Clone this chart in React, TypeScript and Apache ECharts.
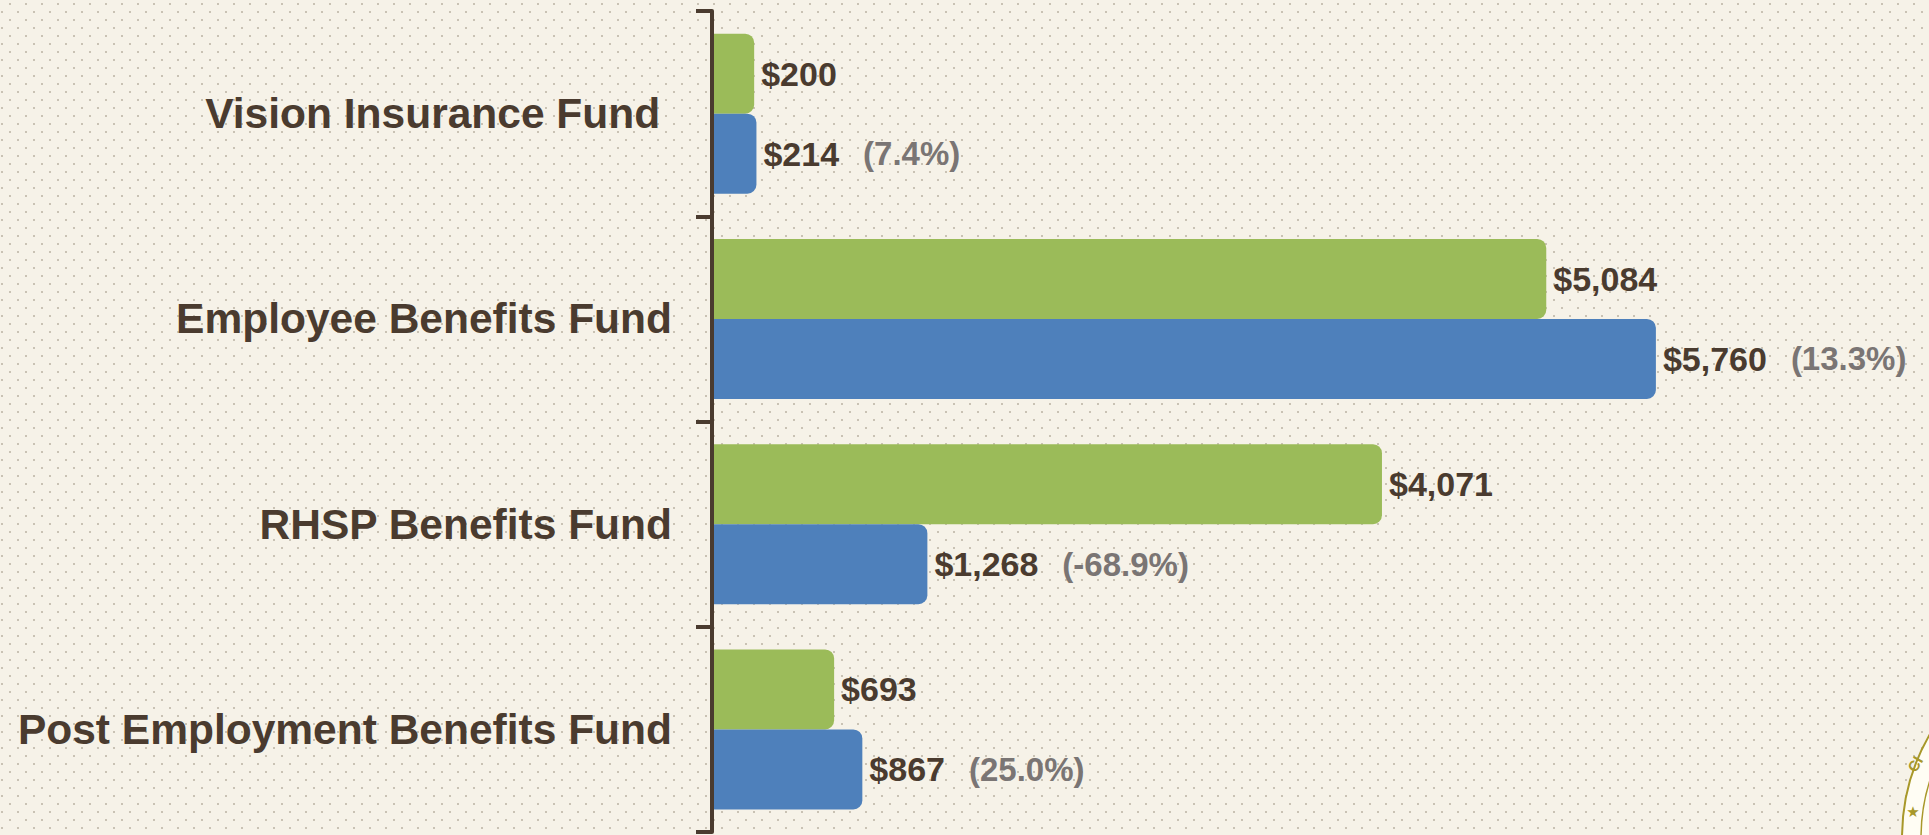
import React, { useEffect, useRef } from "react";
import * as echarts from "echarts";

const categories = [
  "Vision Insurance Fund ",
  "Employee Benefits Fund",
  "RHSP Benefits Fund",
  "Post Employment Benefits Fund",
];
const priorValues = [200, 5084, 4071, 693];
const currentValues = [214, 5760, 1268, 867];
const changeLabels = ["(7.4%)", "(13.3%)", "(-68.9%)", "(25.0%)"];

const BROWN = "#4a3b2f";
const GRAY = "#7a7574";
const FONT = "Liberation Sans";
const GOLD = "#a8982a";

const fmt = (v: number) => "$" + v.toLocaleString("en-US");

export default function App() {
  const ref = useRef<HTMLDivElement>(null);
  useEffect(() => {
    if (!ref.current) return;
    const chart = echarts.init(ref.current, null, { renderer: "svg" });
    chart.setOption({
      animation: false,
      backgroundColor: "transparent",
      grid: { left: 712, right: 72, top: 11, bottom: 3, containLabel: false },
      xAxis: {
        type: "value",
        min: -60,
        max: 7000,
        startValue: -60,
        show: false,
        splitLine: { show: false },
      },
      yAxis: {
        type: "category",
        data: categories,
        inverse: true,
        z: 10,
        axisLine: {
          show: true,
          onZero: false,
          lineStyle: { color: BROWN, width: 4, cap: "round" },
        },
        axisTick: { show: true, length: 16, lineStyle: { color: BROWN, width: 4 } },
        axisLabel: {
          color: BROWN,
          fontSize: 42.5,
          fontWeight: "bold",
          fontFamily: FONT,
          margin: 40,
        },
        splitLine: { show: false },
      },
      series: [
        {
          type: "bar",
          name: "Prior",
          data: priorValues,
          barWidth: 80,
          barGap: "0%",
          z: 1,
          itemStyle: { color: "#9bbb59", borderRadius: [0, 9, 9, 0] },
          label: {
            show: true,
            position: "right",
            distance: 7,
            color: BROWN,
            fontSize: 34,
            fontWeight: "bold",
            fontFamily: FONT,
            formatter: (p: any) => fmt(p.value),
          },
        },
        {
          type: "bar",
          name: "Current",
          data: currentValues,
          barWidth: 80,
          barGap: "0%",
          z: 1,
          itemStyle: { color: "#4e80bb", borderRadius: [0, 9, 9, 0] },
          label: {
            show: true,
            position: "right",
            distance: 7,
            formatter: (p: any) => `{v|${fmt(p.value)}}{p|${changeLabels[p.dataIndex]}}`,
            rich: {
              v: { color: BROWN, fontSize: 34, fontWeight: "bold", fontFamily: FONT },
              p: {
                color: GRAY,
                fontSize: 33,
                fontWeight: "bold",
                fontFamily: FONT,
                padding: [0, 0, 0, 24],
              },
            },
          },
        },
      ],
      graphic: [
        {
          type: "circle",
          shape: { cx: 2109, cy: 838, r: 207 },
          style: { fill: "#fffdf4", stroke: GOLD, lineWidth: 2 },
          silent: true,
        },
        {
          type: "circle",
          shape: { cx: 2109, cy: 838, r: 188 },
          style: { fill: "none", stroke: GOLD, lineWidth: 1.5 },
          silent: true,
        },
        {
          type: "text",
          x: 1915,
          y: 764,
          rotation: 1.05,
          style: {
            text: "CI",
            fill: GOLD,
            fontSize: 15,
            fontWeight: "bold",
            fontFamily: FONT,
            align: "center",
            verticalAlign: "middle",
          },
          silent: true,
        },
        {
          type: "text",
          x: 1913,
          y: 812,
          style: {
            text: "★",
            fill: GOLD,
            fontSize: 15,
            fontFamily: "DejaVu Sans",
            align: "center",
            verticalAlign: "middle",
          },
          silent: true,
        },
      ],
    });
    return () => chart.dispose();
  }, []);

  return (
    <div
      style={{
        position: "fixed",
        left: 0,
        top: 0,
        width: 1929,
        height: 835,
        backgroundColor: "#f6f2e8",
        backgroundImage:
          "radial-gradient(circle, #c9c2b4 1px, transparent 1.4px), radial-gradient(circle, #c9c2b4 1px, transparent 1.4px)",
        backgroundSize: "16px 16px, 16px 16px",
        backgroundPosition: "2px -4px, -6px 4px",
      }}
    >
      <div ref={ref} style={{ width: 1929, height: 835 }} />
    </div>
  );
}
